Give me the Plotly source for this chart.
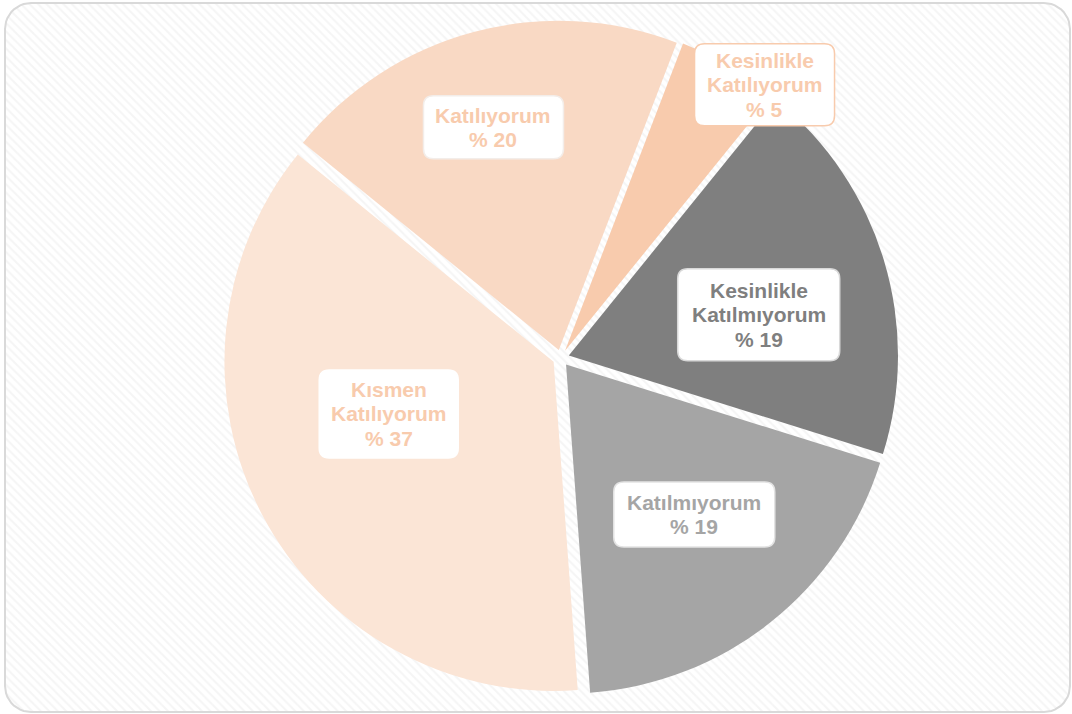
import numpy as np
import plotly.graph_objects as go

# ---- data ----
categories = ["Kesinlikle Katılıyorum", "Kesinlikle Katılmıyorum", "Katılmıyorum",
              "Kısmen Katılıyorum", "Katılıyorum"]
label_lines = [["Kesinlikle", "Katılıyorum"], ["Kesinlikle", "Katılmıyorum"], ["Katılmıyorum"],
               ["Kısmen", "Katılıyorum"], ["Katılıyorum"]]
values = [5, 19, 19, 37, 20]

# ---- style ----
slice_colors = ["#F8CBAD", "#7F7F7F", "#A5A5A5", "#FBE5D6", "#F9D9C4"]
text_colors = ["#F8CBAD", "#7F7F7F", "#A5A5A5", "#F8CBAD", "#F8CBAD"]
box_borders = ["#F8CBAD", "#D9D9D9", "#E3E3E3", "#FFFFFF", "#F3EDE9"]
box_sizes = [(140, 82), (162, 92), (161, 65), (139, 88), (140, 63)]
label_radius = [1.035, 0.615, 0.625, 0.55, 0.73]
label_angle_shift = [6.7, 4.5, -2.0, 9.6, -1.3]
line_gap = 24.5
rotation = 21
pull = 0.025

W, H = 1072, 714
dom_x = [0.2085, 0.838]
dom_y = [0.024, 0.9734]
cx = (dom_x[0] + dom_x[1]) / 2 * W
cy = (1 - (dom_y[0] + dom_y[1]) / 2) * H
R = min((dom_x[1] - dom_x[0]) * W, (dom_y[1] - dom_y[0]) * H) / 2 / (1 + pull)

fig = go.Figure()

# background hatch panel with rounded corners
def rounded_rect_pts(x0, y0, x1, y1, r, n=12):
    xs, ys = [], []
    corners = [(x1 - r, y0 + r, -90, 0), (x1 - r, y1 - r, 0, 90),
               (x0 + r, y1 - r, 90, 180), (x0 + r, y0 + r, 180, 270)]
    for ccx, ccy, a0, a1 in corners:
        for a in np.linspace(np.radians(a0), np.radians(a1), n):
            xs.append(ccx + r * np.cos(a))
            ys.append(ccy + r * np.sin(a))
    xs.append(xs[0]); ys.append(ys[0])
    return xs, ys

bx, by = rounded_rect_pts(5, 3, 1070, 712, 26)
fig.add_trace(go.Scatter(
    x=bx, y=by, mode="lines", fill="toself",
    line=dict(color="#D9D9D9", width=2),
    fillcolor="white",
    fillpattern=dict(shape="\\", fgcolor="#ECECEC", bgcolor="white", size=6, solidity=0.35),
    hoverinfo="skip", showlegend=False))

fig.add_trace(go.Pie(
    labels=categories, values=values, sort=False, direction="clockwise",
    rotation=rotation, pull=[pull] * len(values),
    marker=dict(colors=slice_colors, line=dict(color="white", width=0)),
    textinfo="none", hoverinfo="label+value", showlegend=False,
    domain=dict(x=dom_x, y=dom_y)))

# labels placed at slice mid-angles
total = sum(values)
start = rotation
shapes, annotations = [], []
for i, v in enumerate(values):
    span = v / total * 360
    mid = start + span / 2 + label_angle_shift[i]
    start += span
    rr = label_radius[i] * R
    lx = cx + rr * np.sin(np.radians(mid))
    ly = cy - rr * np.cos(np.radians(mid))
    w, h = box_sizes[i]
    x0, x1, y0, y1, r = lx - w / 2, lx + w / 2, ly - h / 2, ly + h / 2, 10
    path = (f"M {x0 + r},{y0} H {x1 - r} Q {x1},{y0} {x1},{y0 + r} V {y1 - r} "
            f"Q {x1},{y1} {x1 - r},{y1} H {x0 + r} Q {x0},{y1} {x0},{y1 - r} "
            f"V {y0 + r} Q {x0},{y0} {x0 + r},{y0} Z")
    shapes.append(dict(type="path", path=path, xref="x", yref="y", layer="above",
                       fillcolor="white", line=dict(color=box_borders[i], width=1.5)))
    lines = label_lines[i] + [f"% {v}"]
    n = len(lines)
    for k, s in enumerate(lines):
        annotations.append(dict(x=lx, y=ly + (k - (n - 1) / 2) * line_gap, xref="x", yref="y",
                                text=f"<b>{s}</b>", showarrow=False,
                                font=dict(family="Liberation Sans, Arial", size=21,
                                          color=text_colors[i]),
                                align="center"))

fig.update_layout(
    width=W, height=H, margin=dict(l=0, r=0, t=0, b=0),
    paper_bgcolor="white", plot_bgcolor="rgba(0,0,0,0)",
    xaxis=dict(range=[0, W], visible=False, fixedrange=True, domain=[0, 1]),
    yaxis=dict(range=[H, 0], visible=False, fixedrange=True, domain=[0, 1]),
    shapes=shapes, annotations=annotations)

fig.write_html("out.html", config={"displayModeBar": False},
               post_script="document.body.style.margin='0';document.body.style.overflow='hidden';")
